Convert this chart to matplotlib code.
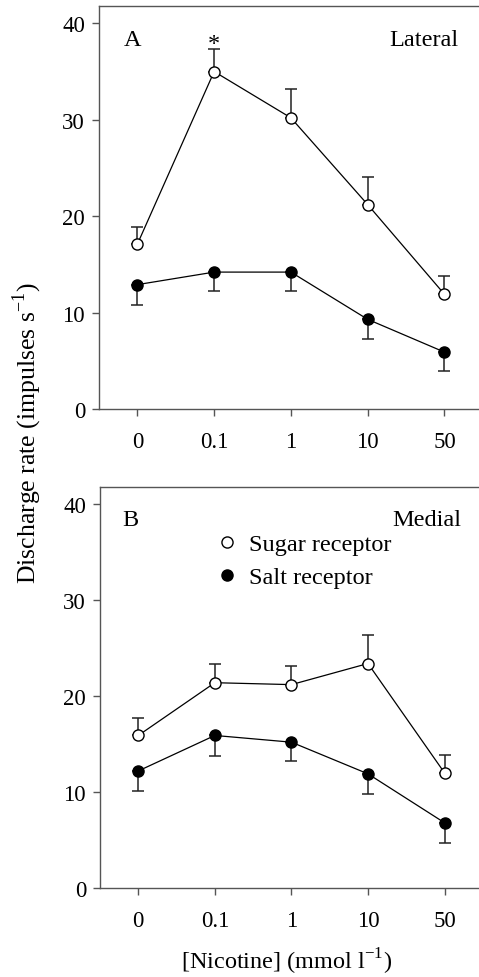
import matplotlib
matplotlib.use("Agg")
import matplotlib.pyplot as plt
import numpy as np

plt.rcParams['font.family'] = ['Liberation Serif', 'DejaVu Serif']
plt.rcParams['mathtext.fontset'] = 'custom'
plt.rcParams['mathtext.rm'] = 'Liberation Serif'

concentrations = ["0", "0.1", "1", "10", "50"]

# Panel A (Lateral)
sugar_A = [17.1, 35.0, 30.2, 21.2, 11.9]
sugar_A_err = [1.8, 2.3, 3.0, 2.9, 1.9]
salt_A = [12.9, 14.2, 14.2, 9.3, 5.9]
salt_A_err = [2.1, 2.0, 2.0, 2.0, 2.0]

# Panel B (Medial)
sugar_B = [15.9, 21.4, 21.2, 23.4, 12.0]
sugar_B_err = [1.8, 1.9, 1.9, 3.0, 1.9]
salt_B = [12.2, 15.9, 15.2, 11.9, 6.8]
salt_B_err = [2.1, 2.1, 2.0, 2.1, 2.1]

yticks = [0, 10, 20, 30, 40]

FS_TICK = 16.5
FS = 17.5
FS_LAB = 18.5
spine_col = '#555555'

fig = plt.figure(figsize=(4.79, 9.78), dpi=100)
axA = fig.add_axes([99/479, 1-410/978, 1-99/479, 403/978])
axB = fig.add_axes([100/479, 1-889/978, 1-100/479, 401/978])

x = np.arange(len(concentrations))

def draw(ax, sugar, sugar_err, salt, salt_err):
    ax.errorbar(x, sugar, yerr=[np.zeros(len(sugar)), sugar_err], fmt='none',
                ecolor='#222222', elinewidth=1.1, capsize=4.3, capthick=1.1, zorder=1)
    ax.errorbar(x, salt, yerr=[salt_err, np.zeros(len(salt))], fmt='none',
                ecolor='#222222', elinewidth=1.1, capsize=4.3, capthick=1.1, zorder=1)
    l1, = ax.plot(x, sugar, '-o', color='black', lw=0.9, markersize=8,
                  markerfacecolor='white', markeredgecolor='black', markeredgewidth=1.0,
                  zorder=3, label='Sugar receptor')
    l2, = ax.plot(x, salt, '-o', color='black', lw=0.9, markersize=8,
                  markerfacecolor='black', markeredgecolor='black', zorder=3,
                  label='Salt receptor')
    ax.set_xlim(-0.5, 4.45)
    ax.set_ylim(0, 41.8)
    ax.set_yticks(yticks)
    ax.set_xticks(x)
    ax.set_xticklabels(concentrations)
    ax.spines['right'].set_visible(False)
    for s in ['left', 'top', 'bottom']:
        ax.spines[s].set_color(spine_col)
        ax.spines[s].set_linewidth(1.0)
    ax.tick_params(axis='both', colors=spine_col, labelcolor='black',
                   labelsize=FS_TICK, length=5, width=1.0, direction='out')
    ax.tick_params(axis='y', pad=5)
    ax.tick_params(axis='x', pad=11)
    return l1, l2

draw(axA, sugar_A, sugar_A_err, salt_A, salt_A_err)
l1, l2 = draw(axB, sugar_B, sugar_B_err, salt_B, salt_B_err)

# asterisk above 0.1 in panel A
axA.text(1, 37.9, '*', ha='center', va='center', fontsize=FS)

axA.text(0.064, 0.918, 'A', transform=axA.transAxes, ha='left', va='center', fontsize=FS)
axA.text(0.947, 0.918, 'Lateral', transform=axA.transAxes, ha='right', va='center', fontsize=FS)
axB.text(0.058, 0.920, 'B', transform=axB.transAxes, ha='left', va='center', fontsize=FS)
axB.text(0.953, 0.920, 'Medial', transform=axB.transAxes, ha='right', va='center', fontsize=FS)

leg = axB.legend(handles=[l1, l2], loc='upper left', bbox_to_anchor=(0.335, 0.885),
                 frameon=False, fontsize=FS, handlelength=0, handletextpad=0.9,
                 labelspacing=0.45, borderaxespad=0, borderpad=0)
for h in leg.legend_handles:
    h.set_linestyle('none')

fig.text(27/479, 1-433/978, r'Discharge rate (impulses s$^{\mathregular{−1}}$)',
         rotation=90, ha='center', va='center', fontsize=FS_LAB)
fig.text(287/479, 1-962/978, r'[Nicotine] (mmol l$^{\mathregular{−1}}$)',
         ha='center', va='center', fontsize=FS)

fig.savefig('out.png', dpi=100)
